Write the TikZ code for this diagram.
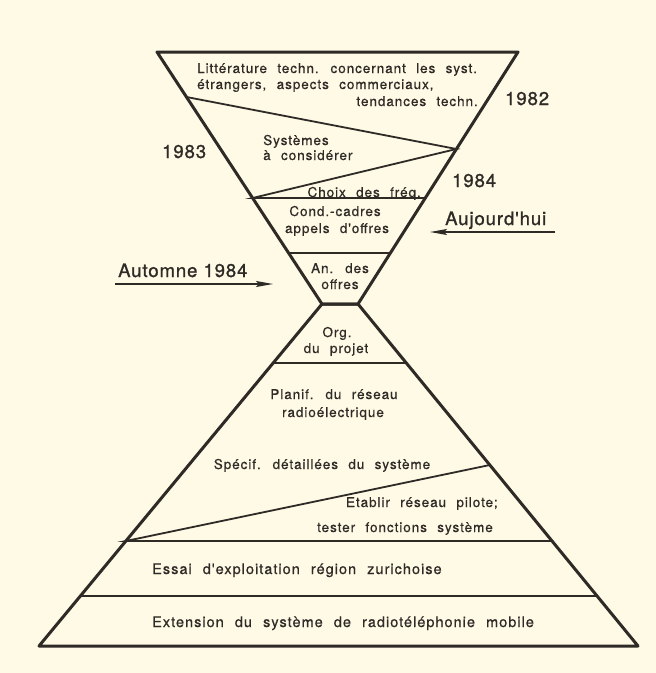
\documentclass[tikz,border=0pt]{standalone}
\usepackage{fontspec}
\setmainfont{TeX Gyre Heros}
\newfontfamily\bodyfont[LetterSpace=7,WordSpace=2.2,FakeBold=0.6]{TeX Gyre Heros}
\newfontfamily\yearfont[LetterSpace=5,FakeBold=1.2]{TeX Gyre Heros}
\usetikzlibrary{arrows.meta}
\definecolor{paper}{HTML}{FEFAE6}
\definecolor{ink}{HTML}{2E2A26}
\tikzset{
  txt/.style={inner sep=0pt, text=ink, font=\bodyfont\fontsize{13.5}{16}\selectfont},
  big/.style={txt, font=\bodyfont\fontsize{14.5}{17}\selectfont},
  yr/.style={inner sep=0pt, text=ink, font=\yearfont\fontsize{18.5}{22}\selectfont},
  rim/.style={draw=ink, line width=3pt, line join=round},
  sep/.style={draw=ink, line width=1.8pt},
  now/.style={draw=ink, line width=1.3pt, -{Stealth[length=17pt,width=6pt,inset=3pt]}}
}
\begin{document}
\begin{tikzpicture}[x=1pt,y=-1pt]
	\fill[paper] (0,0) rectangle (656,673);
	\useasboundingbox (0,0) rectangle (656,673);
	% corners of funnel and pyramid
	\coordinate (t1) at (157,52); \coordinate (t2) at (518,52);
	\coordinate (n1) at (322,304); \coordinate (n2) at (358,304);
	\coordinate (b1) at (39,646); \coordinate (b2) at (638,646);
	% points on the sides
	\coordinate (f1) at (186.5,97); \coordinate (f2) at (456.4,149);
	\coordinate (f3) at (252.6,198); \coordinate (f4) at (425.3,198);
	\coordinate (f5) at (288.6,253); \coordinate (f6) at (390.4,253);
	\coordinate (p1) at (273.2,363); \coordinate (p2) at (406.3,363);
	\coordinate (p3) at (489.8,465);
	\coordinate (p4) at (125.9,541); \coordinate (p5) at (552,541);
	\coordinate (p6) at (80.4,596); \coordinate (p7) at (597.1,596);
	
	\draw[rim] (t1) -- (t2) -- (n2) -- (n1) -- cycle;
	\draw[rim] (n1) -- (n2) -- (b2) -- (b1) -- cycle;
	\draw[sep] (f1) -- (f2) -- (f3) -- (f4) (f5) -- (f6);
	\draw[sep] (p1) -- (p2) (p3) -- (p4) -- (p5) (p6) -- (p7);
	
	\node[txt,anchor=base west] (lit1) at (197,73) {Littérature techn. concernant les syst.};
	\node[txt,anchor=base west] (lit2) at (197,89) {étrangers, aspects commerciaux,};
	\node[txt,anchor=base east] (lit3) at (478,106) {tendances techn.};
	\node[txt,anchor=base west] (sys1) at (263,145) {Systèmes};
	\node[txt,anchor=base west] (sys2) at (263,160) {à considérer};
	\node[txt,anchor=base east] (frq) at (421,197) {Choix des fréq.};
	\node[txt,anchor=base] (cond1) at (335,216) {Cond.-cadres};
	\node[txt,anchor=base] (cond2) at (337,233) {appels d'offres};
	\node[txt,anchor=base] (an1) at (340,273) {An. des};
	\node[txt,anchor=base] (an2) at (340,289) {offres};
	\node[txt,anchor=base] (org1) at (337,337) {Org.};
	\node[txt,anchor=base] (org2) at (336,353) {du projet};
	\node[txt,anchor=base] (pla1) at (334,399) {Planif. du réseau};
	\node[txt,anchor=base] (pla2) at (333,417) {radioélectrique};
	\node[txt,anchor=base] (spe) at (322,469) {Spécif. détaillées du système};
	\node[txt,anchor=base east] (eta1) at (498,507) {Etablir réseau pilote;};
	\node[txt,anchor=base east] (eta2) at (493,532) {tester fonctions système};
	\node[big,anchor=base west] (ess) at (152,574) {Essai d'exploitation région zurichoise};
	\node[big,anchor=base west] (ext) at (152,627) {Extension du système de radiotéléphonie mobile};
	
	\node[yr,anchor=base west] (y82) at (505,105) {1982};
	\node[yr,anchor=base west] (y83) at (162,158) {1983};
	\node[yr,anchor=base west] (y84) at (452,187) {1984};
	\node[yr,anchor=base west] (auj) at (445,225) {Aujourd'hui};
	\node[yr,anchor=base west] (aut) at (118,277) {Automne 1984};
	
	\coordinate (a1) at (555,232); \coordinate (a2) at (430,232);
	\coordinate (a3) at (115,284); \coordinate (a4) at (273,284);
	\draw[now] (a1) -- (a2);
	\draw[now] (a3) -- (a4);
\end{tikzpicture}
\end{document}
